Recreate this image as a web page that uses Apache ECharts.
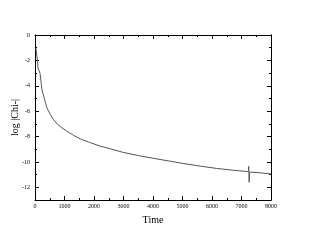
<!DOCTYPE html>
<html><head><meta charset="utf-8">
<script src="https://cdn.jsdelivr.net/npm/echarts@6/dist/echarts.min.js"></script>
<style>html,body{margin:0;padding:0;background:#fff}#c{width:314px;height:243px}</style>
</head><body><div id="c"></div>
<script>
var times = [30, 60, 90, 100, 140, 150, 160, 170, 200, 230, 260, 300, 350, 400, 450, 520, 620, 750, 900, 1070, 1300, 1550, 1860, 2200, 2600, 2990, 3500, 4170, 4600, 5020, 5600, 6150, 6700, 7160, 7230, 7245, 7260, 7275, 7300, 7600, 8000];
var logChi = [-1.0, -1.6, -2.1, -2.6, -2.7, -2.6, -2.75, -3.0, -3.6, -4.2, -4.55, -4.85, -5.3, -5.7, -5.95, -6.25, -6.64, -7.0, -7.3, -7.56, -7.9, -8.2, -8.47, -8.75, -9.0, -9.25, -9.5, -9.78, -9.95, -10.12, -10.33, -10.51, -10.65, -10.75, -10.77, -10.35, -11.6, -10.8, -10.8, -10.85, -10.95];
var yMajor = [0, -2, -4, -6, -8, -10, -12];
var xTitle = 'Time';
var yTitle = 'log |Chi-|';

var font = 'Liberation Serif';
var chart = echarts.init(document.getElementById('c'));
var data = times.map(function (t, i) { return [t, logChi[i]]; });
function xax(pos, labels) {
  return {
    type: 'value', position: pos, min: 0, max: 8000, interval: 1000,
    name: labels ? xTitle : '', nameLocation: 'middle', nameGap: 15, nameMoveOverlap: false,
    nameTextStyle: { fontFamily: font, fontSize: 10, color: '#000' },
    axisLine: { show: true, onZero: false, lineStyle: { color: '#000', width: 1 } },
    axisTick: { show: true, inside: true, length: 4, lineStyle: { color: '#000' } },
    minorTick: { show: true, splitNumber: 2, length: 2, lineStyle: { color: '#000' } },
    axisLabel: { show: labels, fontFamily: font, fontSize: 6, color: '#000', margin: 3,
      formatter: function (v) { return String(v); } },
    splitLine: { show: false }
  };
}
function yax(pos, labels, custom, len) {
  var a = {
    type: 'value', position: pos, min: -13, max: 0, interval: 1,
    name: labels ? yTitle : '', nameLocation: 'middle', nameGap: 15, nameRotate: 90, nameMoveOverlap: false,
    nameTextStyle: { fontFamily: font, fontSize: 10, color: '#000' },
    axisLine: { show: true, onZero: false, lineStyle: { color: '#000', width: 1 } },
    axisTick: { show: true, inside: true, length: len, lineStyle: { color: '#000' } },
    axisLabel: { show: labels, fontFamily: font, fontSize: 6, color: '#000', margin: 5,
      formatter: function (v) { return String(v); } },
    splitLine: { show: false }
  };
  if (custom) {
    a.axisTick.customValues = yMajor;
    a.axisLabel.customValues = yMajor;
  }
  return a;
}
chart.setOption({
  animation: false,
  backgroundColor: '#fff',
  grid: { left: 35, right: 43, top: 35, bottom: 43, containLabel: false, outerBoundsMode: 'none' },
  xAxis: [xax('bottom', true), xax('top', false)],
  yAxis: [yax('left', true, true, 4), yax('left', false, false, 2), yax('right', false, true, 4), yax('right', false, false, 2)],
  series: [{
    type: 'line', data: data, xAxisIndex: 0, yAxisIndex: 0,
    showSymbol: false, symbol: 'none',
    lineStyle: { color: '#555', width: 1 }
  }]
});
</script></body></html>
